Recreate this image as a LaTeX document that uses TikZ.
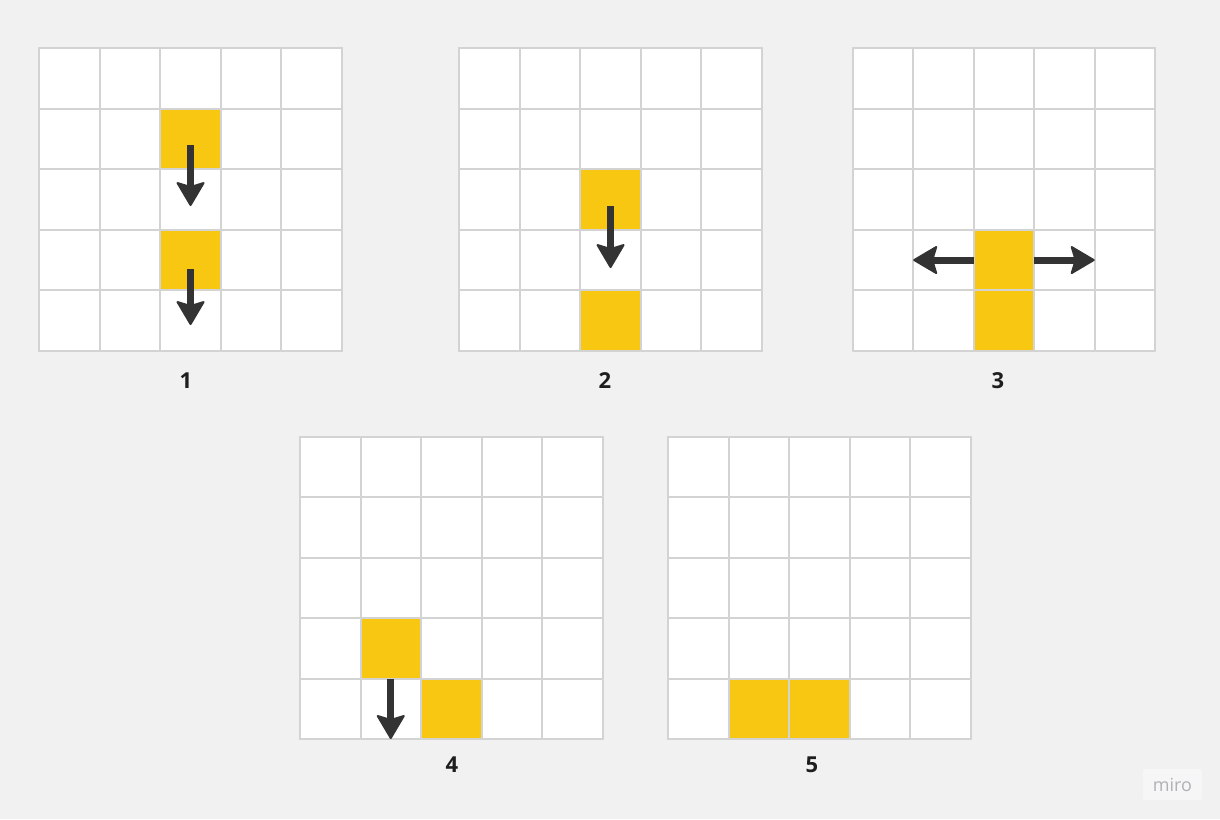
\documentclass[tikz,border=0pt]{standalone}
\usepackage{fontspec}
\setmainfont{Open Sans}
\usetikzlibrary{calc}
\definecolor{bgc}{HTML}{F1F1F1}
\definecolor{gridc}{HTML}{D3D3D3}
\definecolor{yel}{HTML}{F8C712}
\definecolor{arrc}{HTML}{333333}
\definecolor{labc}{HTML}{1E1E1E}
\definecolor{miroc}{HTML}{B0B0B8}
\definecolor{mirobg}{HTML}{F6F6F6}
\tikzset{
  cell/.style={draw=gridc, line width=2pt, fill=white, minimum size=60.5pt, inner sep=0pt, outer sep=0pt, anchor=center},
  ycell/.style={cell, fill=yel},
  shaft/.style={draw=arrc, line width=7pt, shorten >=16pt},
  headstyle/.style={fill=arrc, draw=arrc, line width=2pt, line join=round},
  headdown/.pic={\path[headstyle] (0,-1) -- (-13,-23) -- (0,-19) -- (13,-23) -- cycle;},
  headright/.pic={\path[headstyle] (-1,0) -- (-23,-13) -- (-19,0) -- (-23,13) -- cycle;},
  headleft/.pic={\path[headstyle] (1,0) -- (23,-13) -- (19,0) -- (23,13) -- cycle;},
  lab/.style={font=\bfseries\fontsize{22}{25}\selectfont, text=labc},
}
\newcommand{\mkgrid}[3]{% name, left x, top y
  \foreach \r in {1,...,5}{
    \foreach \c in {1,...,5}{
      \node[cell] (#1-\r-\c) at ({#2+(\c-0.5)*60.5}, {#3+(\r-0.5)*60.5}) {};
    }
  }
}
\begin{document}
\begin{tikzpicture}[x=1pt,y=-1pt]
\fill[bgc] (0,0) rectangle (1220,819);
\useasboundingbox (0,0) rectangle (1220,819);
% grids
\mkgrid{g1}{39.3}{48.3}
\mkgrid{g2}{459.3}{48.3}
\mkgrid{g3}{852.7}{48.3}
\mkgrid{g4}{300}{436.5}
\mkgrid{g5}{668.3}{436.5}
% yellow cells
\node[ycell] at (g1-2-3) {};
\node[ycell] at (g1-4-3) {};
\node[ycell] at (g2-3-3) {};
\node[ycell] at (g2-5-3) {};
\node[ycell] at (g3-4-3) {};
\node[ycell] at (g3-5-3) {};
\node[ycell] at (g4-4-2) {};
\node[ycell] at (g4-5-3) {};
\node[ycell] at (g5-5-2) {};
\node[ycell] at (g5-5-3) {};
% arrow end points
\coordinate (a1s) at ([yshift=-6pt]g1-2-3.center);
\coordinate (a1e) at ([yshift=-6.5pt]g1-3-3.center);
\coordinate (a2s) at ([yshift=-9pt]g1-4-3.center);
\coordinate (a2e) at ([yshift=-4.5pt]g1-5-3.center);
\coordinate (a3s) at ([yshift=-6.5pt]g2-3-3.center);
\coordinate (a3e) at ([yshift=-8pt]g2-4-3.center);
\coordinate (a4e) at (g3-4-2.west);
\coordinate (a5e) at (g3-4-4.east);
\coordinate (a6e) at (g4-5-2.south);
% arrows
\draw[shaft] (a1s) -- (a1e); \pic at (a1e) {headdown};
\draw[shaft] (a2s) -- (a2e); \pic at (a2e) {headdown};
\draw[shaft] (a3s) -- (a3e); \pic at (a3e) {headdown};
\draw[shaft] (g3-4-3.west) -- (a4e); \pic at (a4e) {headleft};
\draw[shaft] (g3-4-3.east) -- (a5e); \pic at (a5e) {headright};
\draw[shaft] (g4-4-2.south) -- (a6e); \pic at (a6e) {headdown};
% labels
\node[lab] (l1) at (186,381) {1};
\node[lab] (l2) at (605,381) {2};
\node[lab] (l3) at (998,381) {3};
\node[lab] (l4) at (452,765) {4};
\node[lab] (l5) at (812,765) {5};
% miro badge
\node[fill=mirobg, rounded corners=2pt, minimum width=59pt, minimum height=31pt, inner sep=0pt,
      text=miroc, font=\fontsize{18}{20}\selectfont] (miro) at (1172.5,784.5) {miro};
\end{tikzpicture}
\end{document}
